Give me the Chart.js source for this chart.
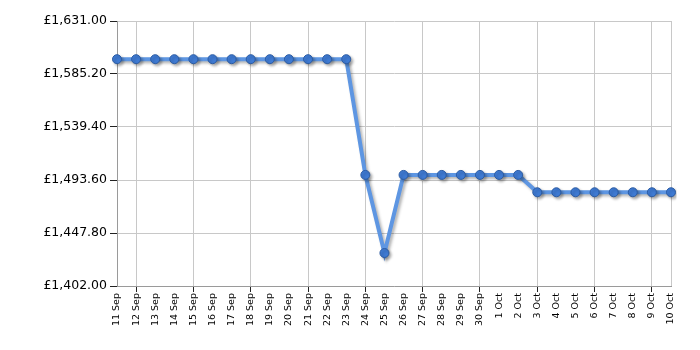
<!DOCTYPE html>
<html>
<head>
<meta charset="utf-8">
<script src="https://cdn.jsdelivr.net/npm/chart.js@4"></script>
<style>
  html, body { margin: 0; padding: 0; background: #fff; }
  #wrap { width: 700px; height: 350px; }
</style>
</head>
<body>
<div id="wrap"><canvas id="price-chart"></canvas></div>
<script>
// Data
const dayLabels = [
  '11 Sep', '12 Sep', '13 Sep', '14 Sep', '15 Sep', '16 Sep', '17 Sep', '18 Sep',
  '19 Sep', '20 Sep', '21 Sep', '22 Sep', '23 Sep', '24 Sep', '25 Sep', '26 Sep',
  '27 Sep', '28 Sep', '29 Sep', '30 Sep', '1 Oct', '2 Oct', '3 Oct', '4 Oct',
  '5 Oct', '6 Oct', '7 Oct', '8 Oct', '9 Oct', '10 Oct'
]
const prices = [
  1598, 1598, 1598, 1598, 1598, 1598, 1598, 1598, 1598, 1598, 1598, 1598, 1598,
  1498, 1430.5, 1498, 1498, 1498, 1498, 1498, 1498, 1498,
  1483, 1483, 1483, 1483, 1483, 1483, 1483, 1483
]
const yTicks = [1402.00, 1447.80, 1493.60, 1539.40, 1585.20, 1631.00]

const gridColor = '#c8c8c8'
const axisColor = '#9a9a9a'

// every third day carries a grid line, starting at 12 Sep
const isGridDay = (i) => i % 3 === 1

const fmtPound = (v) => '£' + v.toLocaleString('en-GB', { minimumFractionDigits: 2, maximumFractionDigits: 2 })

// soft drop shadow under the line, like the original
const lineShadow = {
  id: 'lineShadow',
  beforeDatasetDraw(chart) {
    const ctx = chart.ctx
    ctx.save()
    ctx.shadowColor = 'rgba(0,0,0,0.3)'
    ctx.shadowBlur = 3
    ctx.shadowOffsetX = 2
    ctx.shadowOffsetY = 2
  },
  afterDatasetDraw(chart) {
    chart.ctx.restore()
  }
}

new Chart(document.getElementById('price-chart'), {
  type: 'line',
  data: {
    labels: dayLabels,
    datasets: [{
      data: prices,
      borderColor: '#5e96e2',
      borderWidth: 4,
      tension: 0,
      pointRadius: 4.5,
      pointBackgroundColor: '#3f7bd4',
      pointBorderColor: '#2c5ca3',
      pointBorderWidth: 1
    }]
  },
  options: {
    responsive: true,
    maintainAspectRatio: false,
    animation: false,
    layout: { padding: { top: 21, right: 29, left: 0, bottom: 0 } },
    plugins: {
      legend: { display: false },
      tooltip: { enabled: false }
    },
    scales: {
      x: {
        offset: false,
        afterFit: (scale) => { scale.height = 64 },
        border: { color: axisColor, width: 1 },
        grid: {
          color: (c) => (isGridDay(c.index) || c.index === dayLabels.length - 1) ? gridColor : 'rgba(0,0,0,0)',
          tickColor: (c) => isGridDay(c.index) ? '#222' : 'rgba(0,0,0,0)',
          tickLength: 6,
          drawOnChartArea: true
        },
        ticks: {
          autoSkip: false,
          maxRotation: 90,
          minRotation: 90,
          padding: 1,
          color: '#000',
          font: { family: 'DejaVu Sans', size: 9.5 }
        }
      },
      y: {
        min: 1402,
        max: 1631,
        afterFit: (scale) => { scale.width = 117 },
        afterBuildTicks: (scale) => { scale.ticks = yTicks.map(v => ({ value: v })) },
        border: { color: axisColor, width: 1 },
        grid: {
          color: gridColor,
          tickColor: '#222',
          tickLength: 7
        },
        ticks: {
          padding: 3,
          color: '#000',
          font: { family: 'DejaVu Sans', size: 12.5 },
          callback: (v) => fmtPound(v)
        }
      }
    }
  },
  plugins: [lineShadow]
})
</script>
</body>
</html>
